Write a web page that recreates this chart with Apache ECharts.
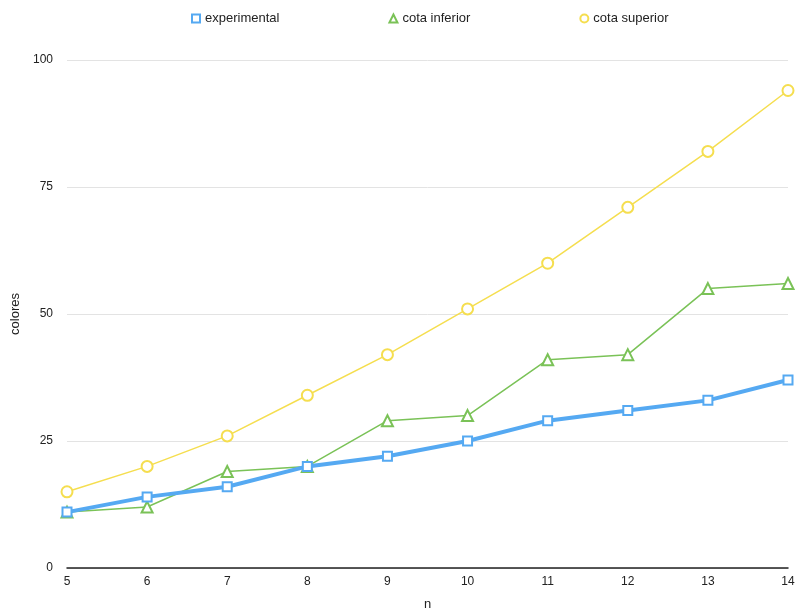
<!DOCTYPE html>
<html><head><meta charset="utf-8">
<script src="https://cdn.jsdelivr.net/npm/echarts@6/dist/echarts.min.js"></script>
<style>html,body{margin:0;padding:0;background:#fff}#c{width:796px;height:612px}</style>
</head><body><div id="c"></div>
<script>
const nValues = [5,6,7,8,9,10,11,12,13,14];
const experimental = [11,14,16,20,22,25,29,31,33,37];
const cotaInferior = [11,12,19,20,29,30,41,42,55,56];
const cotaSuperior = [15,20,26,34,42,51,60,71,82,94];
const seriesNames = ['experimental','cota inferior','cota superior'];
const legendIcons = ['emptyRect','emptyTriangle','emptyCircle'];

const pairs = arr => nValues.map((n,i)=>[n,arr[i]]);
const chart = echarts.init(document.getElementById('c'));
const font = 'Helvetica, "Liberation Sans", Arial, sans-serif';
chart.setOption({
  animation:false,
  textStyle:{fontFamily:font},
  legend:{top:7,left:186,itemGap:109,itemWidth:8,itemHeight:8,
    textStyle:{fontSize:13,color:'#222',fontFamily:font},
    data:seriesNames.map((s,i)=>({name:s,icon:legendIcons[i]}))},
  grid:{left:67,right:8,top:60,bottom:44,outerBoundsMode:'none',containLabel:false},
  xAxis:{type:'value',min:5,max:14,interval:1,name:'n',nameLocation:'middle',nameGap:30,
    nameTextStyle:{fontSize:13,color:'#222'},
    axisLine:{lineStyle:{color:'#222',width:1.5}},axisTick:{show:false},
    axisLabel:{fontSize:12,color:'#222',margin:8},splitLine:{show:false}},
  yAxis:{type:'value',min:0,max:100,interval:25,name:'colores',nameLocation:'middle',nameGap:42,
    nameTextStyle:{fontSize:13,color:'#222'},
    axisLine:{show:false},axisTick:{show:false},
    axisLabel:{fontSize:12,color:'#222',margin:14},
    splitLine:{lineStyle:{color:'#e3e3e3'}}},
  series:[
    {name:seriesNames[0],type:'line',data:pairs(experimental),z:5,
     symbol:'emptyRect',symbolSize:9,color:'#55a9f2',
     lineStyle:{width:4,color:'#55a9f2'},itemStyle:{borderWidth:2.5,color:'#55a9f2'}},
    {name:seriesNames[1],type:'line',data:pairs(cotaInferior),z:3,
     symbol:'emptyTriangle',symbolSize:11,color:'#7ac257',
     lineStyle:{width:1.5,color:'#7ac257'},itemStyle:{borderWidth:1.5,color:'#7ac257'}},
    {name:seriesNames[2],type:'line',data:pairs(cotaSuperior),z:2,
     symbol:'emptyCircle',symbolSize:11,color:'#f5de4f',
     lineStyle:{width:1.5,color:'#f5de4f'},itemStyle:{borderWidth:1.5,color:'#f5de4f'}}
  ]
});
</script></body></html>
